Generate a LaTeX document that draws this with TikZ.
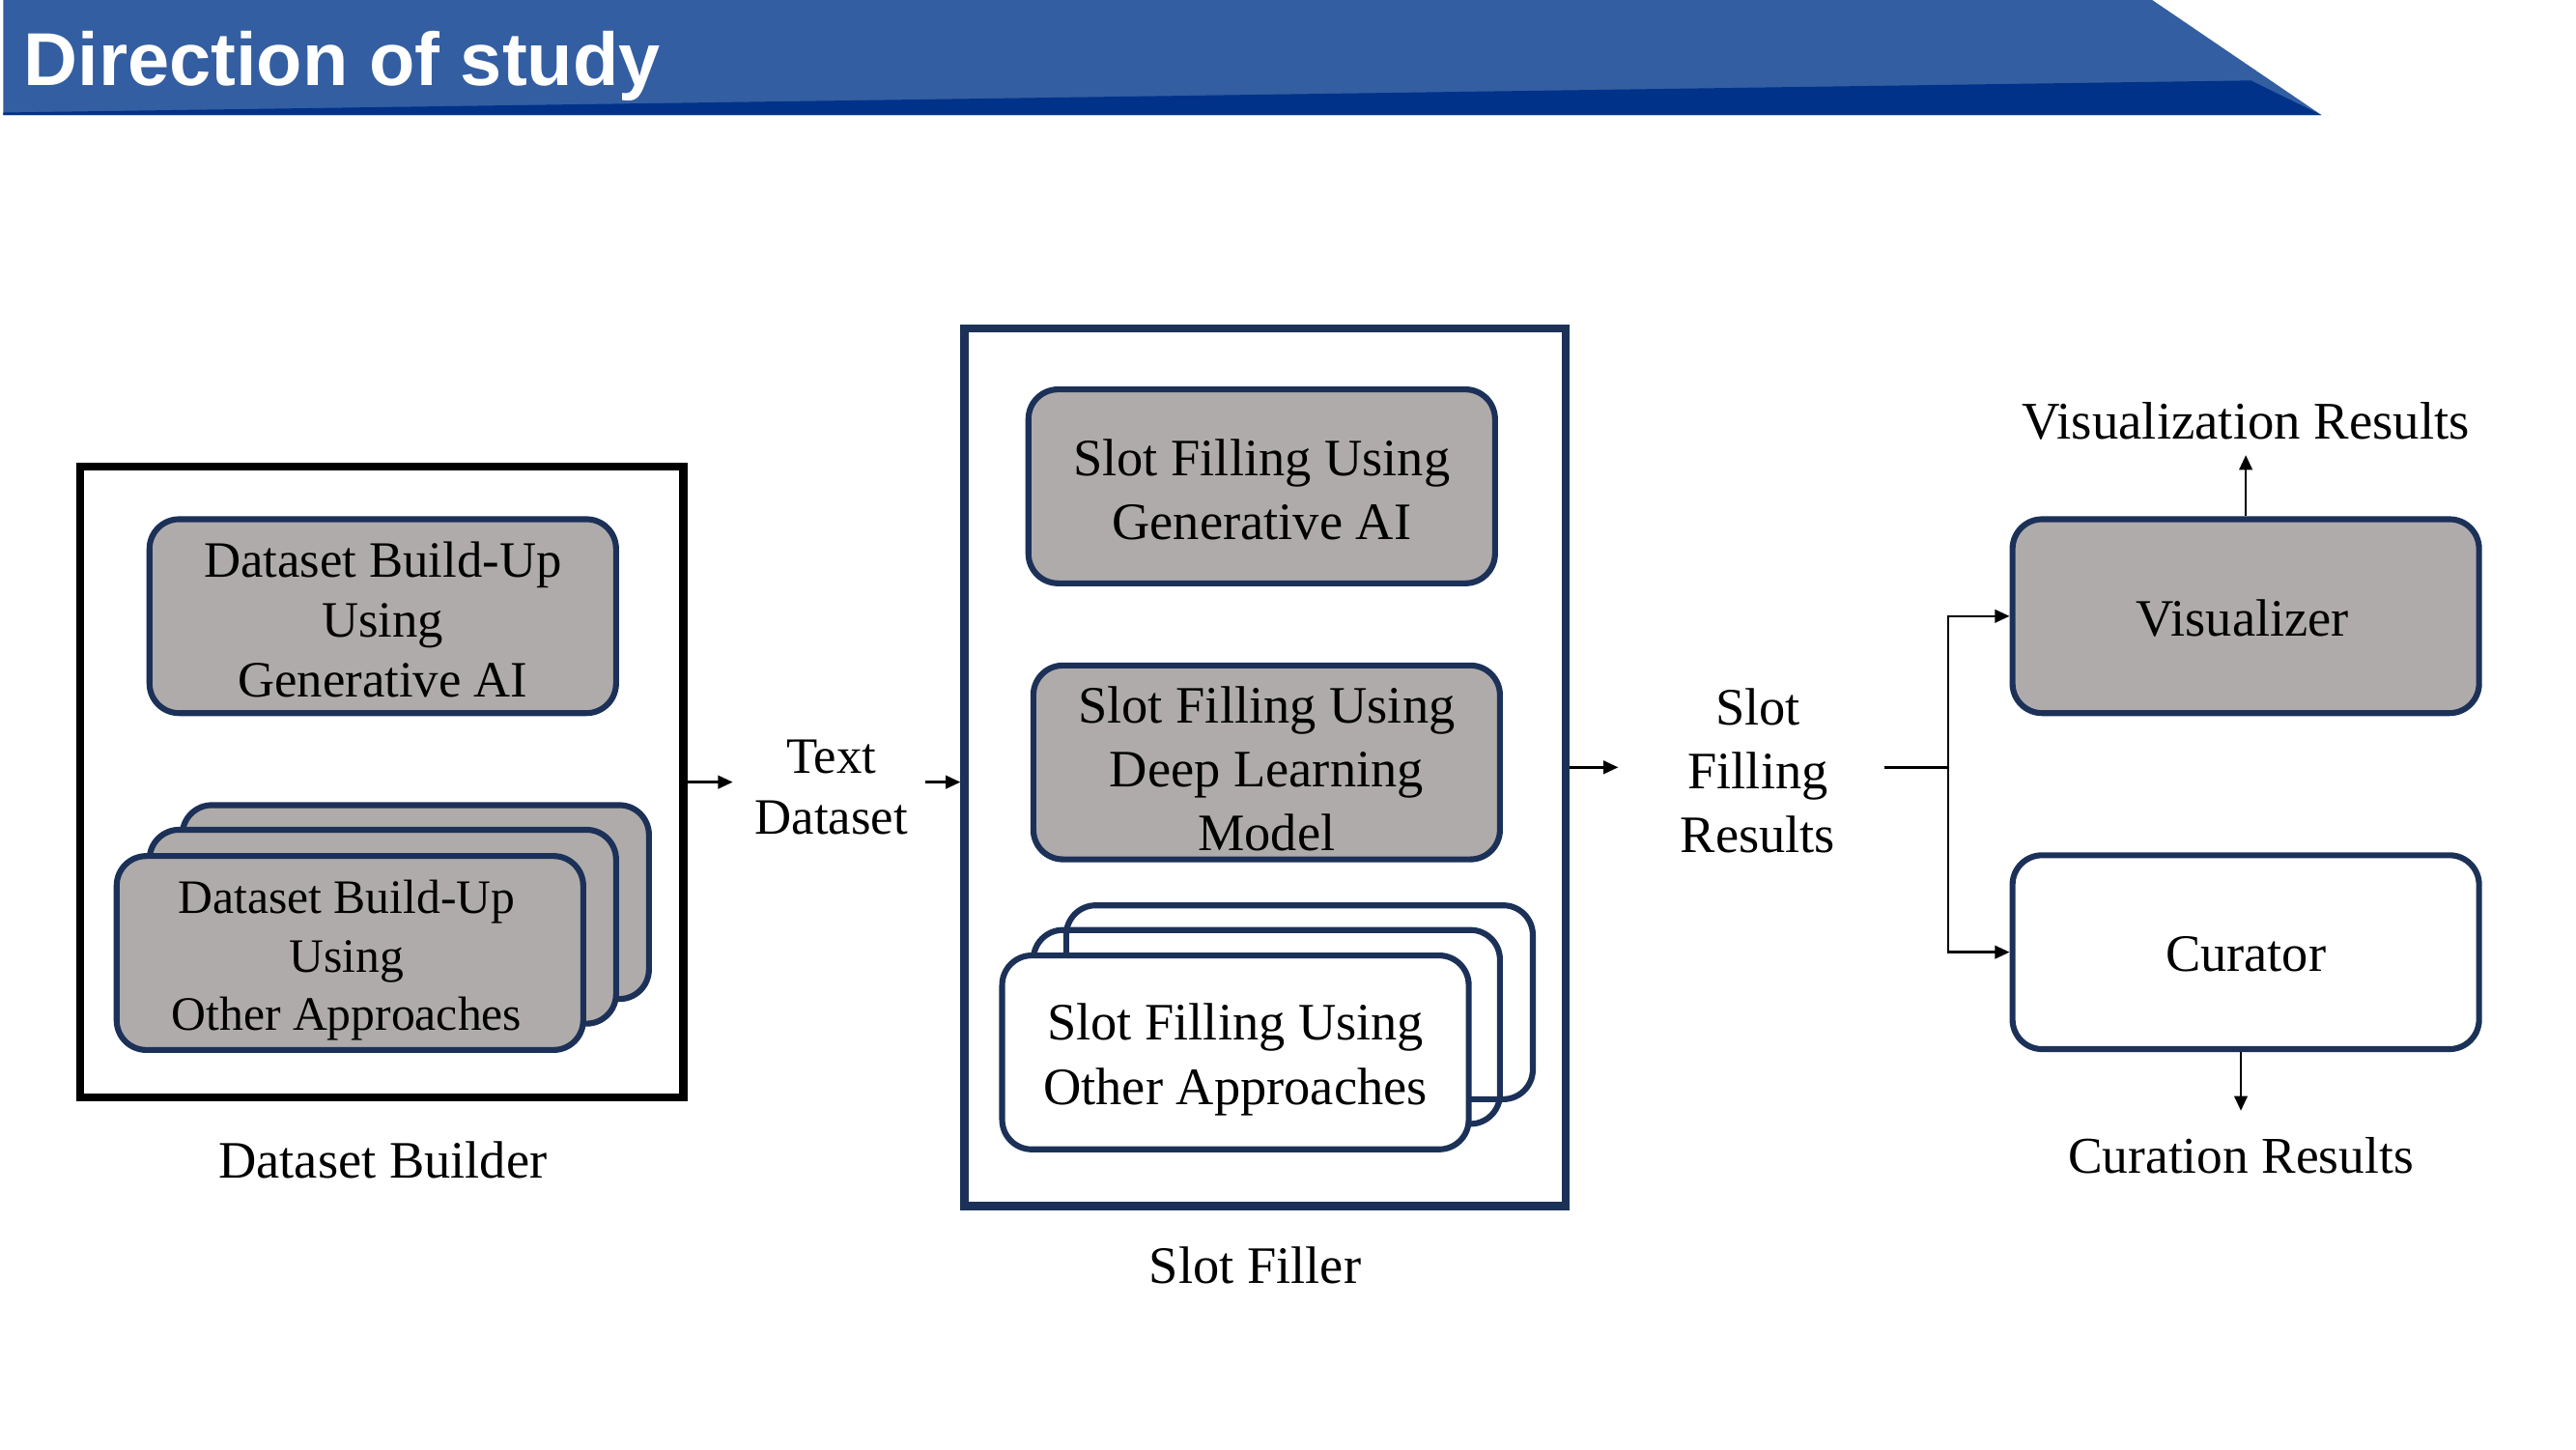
\documentclass[tikz,border=0pt]{standalone}
\usepackage{fontspec}
\setmainfont{Liberation Serif}
\newfontfamily\titlefont{Liberation Sans}
\usetikzlibrary{arrows.meta}
\definecolor{hdrlight}{RGB}{51,94,161}
\definecolor{hdrdark}{RGB}{0,50,137}
\definecolor{navy}{RGB}{28,49,88}
\definecolor{boxgray}{RGB}{175,171,171}
\begin{document}
\begin{tikzpicture}[x=0.5pt,y=-0.5pt,
  rbox/.style={draw=navy, line width=1.8pt, rounded corners=9pt, minimum width=142pt, minimum height=59pt, inner sep=0pt},
  graybox/.style={rbox, fill=boxgray},
  whitebox/.style={rbox, fill=white},
  openbox/.style={rbox},
  outerbox/.style={line width=2.4pt, inner sep=0pt},
  lbl/.style={align=center, inner sep=0pt, font=\fontsize{16}{19.5}\selectfont},
  arr/.style={line width=0.7pt, -{Triangle[length=4.5pt,width=4pt]}},
  conn/.style={line width=0.7pt}
]
\useasboundingbox (0,0) rectangle (1568,882);
\fill[white] (0,0) rectangle (1568,882);

% header
\fill[hdrlight] (2,0) -- (1310,0) -- (1413,70) -- (2,70) -- cycle;
\fill[hdrdark] (2,68.5) -- (1370,49) -- (1413,70) -- (2,70) -- cycle;
\node[anchor=base west, inner sep=0pt, text=white, font=\titlefont\bfseries\fontsize{22.8}{27}\selectfont] (title) at (14,52) {Direction of study};

% Dataset builder
\node[outerbox, draw=black, minimum width=183.5pt, minimum height=192pt] (dbb) at (232.5,476) {};
\node[graybox] (dbgen) at (233,375) {};
\node[lbl, font=\fontsize{15.5}{18.25}\selectfont] (dbgent) at ([yshift=-1pt]dbgen.center) {Dataset Build-Up\\Using\\Generative AI};
\node[graybox] (dbo3) at (253,549) {};
\node[graybox] (dbo2) at (233,564) {};
\node[graybox] (dbo1) at (213,580) {};
\node[lbl, font=\fontsize{14.6}{17.75}\selectfont] (dbo1t) at ([xshift=-1pt,yshift=-2.3pt]dbo1.center) {Dataset Build-Up\\Using\\Other Approaches};
\node[lbl] (dblbl) at (233,706) {Dataset Builder};

% Text dataset
\node[lbl, font=\fontsize{15.5}{18.5}\selectfont] (td) at (506,479) {Text\\Dataset};
\coordinate (td1) at (446,476);
\coordinate (td2) at (563,476);
\draw[arr] (dbb.east |- td1) -- (td1);

% Slot filler
\node[outerbox, draw=navy, minimum width=183pt, minimum height=267pt] (sf) at (770,467) {};
\draw[arr] (td2) -- (td2 -| sf.west);
\node[graybox] (sfgen) at (768,296) {};
\node[lbl] (sfgent) at ([yshift=-1pt]sfgen.center) {Slot Filling Using\\Generative AI};
\node[graybox] (sfdl) at (771,464) {};
\node[lbl] (sfdlt) at ([yshift=-2pt]sfdl.center) {Slot Filling Using\\Deep Learning\\Model};
\node[whitebox] (sfo3) at (791,610) {};
\node[openbox] (sfo2) at (771,625) {};
\node[whitebox] (sfo1) at (752,640.5) {};
\node[lbl] (sfo1t) at ([yshift=-2.2pt]sfo1.center) {Slot Filling Using\\Other Approaches};
\node[lbl] (sflbl) at (764,770) {Slot Filler};

% Slot filling results
\coordinate (sr0) at (985,467);
\draw[arr] (sf.east |- sr0) -- (sr0);
\node[lbl] (sfr) at (1070,469) {Slot\\Filling\\Results};
\coordinate (sr1) at (1147,467);
\coordinate (br) at (1186,467);

% Visualizer / Curator
\node[graybox] (vis) at (1367,375) {};
\node[lbl] (vist) at ([xshift=-1pt,yshift=-0.5pt]vis.center) {Visualizer};
\node[whitebox] (cur) at (1367,579.5) {};
\node[lbl] (curt) at ([yshift=-0.5pt]cur.center) {Curator};
\draw[conn] (sr1) -- (br);
\draw[arr] (br) |- (vis.west);
\draw[arr] (br) |- (cur.west);

\coordinate (vr) at (1367,277);
\draw[arr] (vis.north) -- (vr);
\node[lbl, font=\fontsize{16.1}{19.5}\selectfont] (vislbl) at (1367,256) {Visualization Results};

\coordinate (cr) at (1364,676);
\draw[arr] (cr |- cur.south) -- (cr);
\node[lbl, font=\fontsize{15.7}{19.5}\selectfont] (curlbl) at (1364,703) {Curation Results};
\end{tikzpicture}
\end{document}
